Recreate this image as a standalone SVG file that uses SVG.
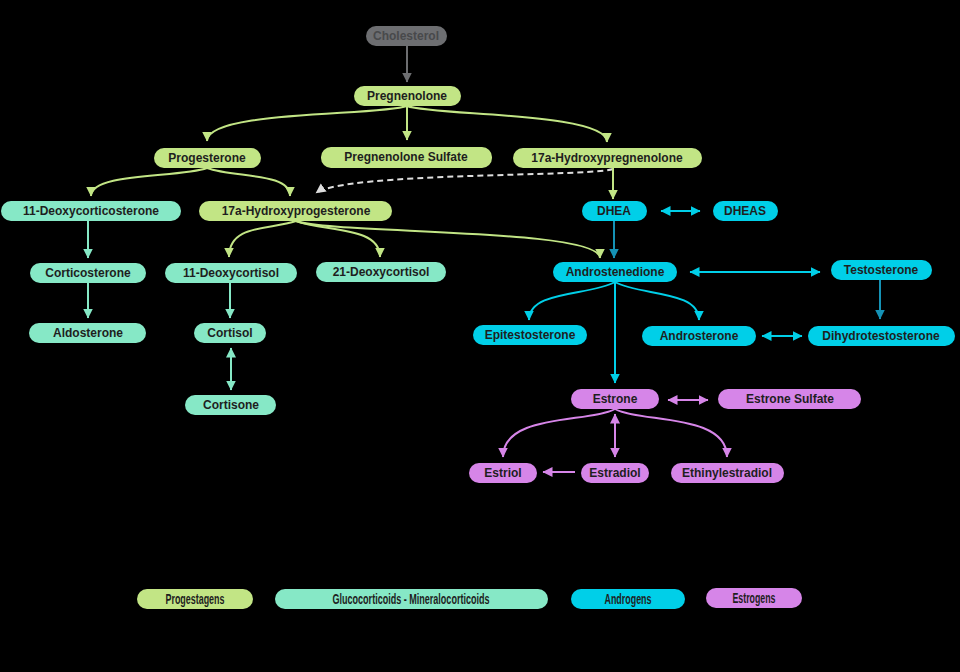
<svg xmlns="http://www.w3.org/2000/svg" width="960" height="672" viewBox="0 0 960 672">
<style>
text{font-family:"Liberation Sans",Arial,sans-serif;font-weight:bold;font-size:12px;fill:#1e1e1e;text-anchor:middle;dominant-baseline:central}
.lg text{font-size:14px}
.pg rect{fill:#c2e585}.gc rect{fill:#86e8c6}.an rect{fill:#00cfe8}.es rect{fill:#d685e8}
.ch rect{fill:#6d6e71}.ch text{fill:#48494b}
.e{fill:none;stroke-width:2}
.eg{stroke:#c2e585;marker-end:url(#mg)}
.em{stroke:#86e8c6;marker-end:url(#mm)}
.ec{stroke:#00cfe8;marker-end:url(#mc)}
.ed{stroke:#1592b5;marker-end:url(#md)}
.ev{stroke:#d685e8;marker-end:url(#mv)}
.b1{marker-start:url(#mm)}.b2{marker-start:url(#mc)}.b3{marker-start:url(#mv)}
</style>
<defs>
<marker id="mg" markerUnits="userSpaceOnUse" markerWidth="11" markerHeight="11" refX="9.5" refY="5" orient="auto-start-reverse"><path d="M0,0L10,5L0,10z" fill="#c2e585"/></marker>
<marker id="mm" markerUnits="userSpaceOnUse" markerWidth="11" markerHeight="11" refX="9.5" refY="5" orient="auto-start-reverse"><path d="M0,0L10,5L0,10z" fill="#86e8c6"/></marker>
<marker id="mc" markerUnits="userSpaceOnUse" markerWidth="11" markerHeight="11" refX="9.5" refY="5" orient="auto-start-reverse"><path d="M0,0L10,5L0,10z" fill="#00cfe8"/></marker>
<marker id="md" markerUnits="userSpaceOnUse" markerWidth="11" markerHeight="11" refX="9.5" refY="5" orient="auto-start-reverse"><path d="M0,0L10,5L0,10z" fill="#1592b5"/></marker>
<marker id="mv" markerUnits="userSpaceOnUse" markerWidth="11" markerHeight="11" refX="9.5" refY="5" orient="auto-start-reverse"><path d="M0,0L10,5L0,10z" fill="#d685e8"/></marker>
<marker id="mgr" markerUnits="userSpaceOnUse" markerWidth="11" markerHeight="11" refX="9.5" refY="5" orient="auto"><path d="M0,0L10,5L0,10z" fill="#6d6e71"/></marker>
<marker id="mw" markerUnits="userSpaceOnUse" markerWidth="11" markerHeight="11" refX="9.5" refY="5" orient="auto"><path d="M0,0L10,5L0,10z" fill="#dddddd"/></marker>
</defs>
<rect width="960" height="672" fill="#000"/>
<g id="connectors">
<path class="e" stroke="#6d6e71" marker-end="url(#mgr)" d="M407,46L407,82"/>
<path class="e eg" d="M407,106C380,116 207,110 207,141"/>
<path class="e eg" d="M407,106L407,140"/>
<path class="e eg" d="M407,106C434,116 607,112 607,142"/>
<path class="e" stroke="#dddddd" stroke-dasharray="6,4" marker-end="url(#mw)" d="M613,169C590,177 345,172 316,193"/>
<path class="e eg" d="M207,168C180,178 91,172 91,196"/>
<path class="e eg" d="M207,168C234,178 290,172 290,196"/>
<path class="e eg" d="M613,168L613,199"/>
<path class="e ec b2" d="M661,211L700,211"/>
<path class="e em" d="M88,221L88,258"/>
<path class="e em" d="M88,283L88,318"/>
<path class="e eg" d="M296,221C270,230 229,224 229,257"/>
<path class="e eg" d="M296,221C325,232 380,226 380,257"/>
<path class="e eg" d="M296,221C330,234 600,228 600,258"/>
<path class="e ed" d="M614,221L614,258"/>
<path class="e ec b2" d="M690,272L820,272"/>
<path class="e ec" d="M615,282C590,296 529,290 529,320"/>
<path class="e ec" d="M615,282C640,296 699,290 699,320"/>
<path class="e ec" d="M615,282L615,383"/>
<path class="e ed" d="M880,280L880,319"/>
<path class="e ec b2" d="M762,336L802,336"/>
<path class="e em" d="M230,283L230,318"/>
<path class="e em b1" d="M231,348L231,390"/>
<path class="e ev b3" d="M668,400L708,400"/>
<path class="e ev" d="M615,409C590,423 503,413 503,457"/>
<path class="e ev b3" d="M615,414L615,457"/>
<path class="e ev" d="M615,409C640,423 727,413 727,457"/>
<path class="e ev" d="M575,472L543,472"/>
</g>
<g id="cholesterol" class="ch"><rect x="366" y="26" width="81" height="20" rx="10"/><text x="406" y="36">Cholesterol</text></g>
<g id="pregnenolone" class="pg"><rect x="354" y="86" width="107" height="20" rx="10"/><text x="407" y="96">Pregnenolone</text></g>
<g id="progesterone" class="pg"><rect x="154" y="148" width="107" height="20" rx="10"/><text x="207" y="158">Progesterone</text></g>
<g id="pregnenolone-sulfate" class="pg"><rect x="321" y="147" width="171" height="21" rx="10"/><text x="406" y="157">Pregnenolone Sulfate</text></g>
<g id="hydroxypregnenolone" class="pg"><rect x="513" y="148" width="189" height="20" rx="10"/><text x="607" y="158">17a-Hydroxypregnenolone</text></g>
<g id="deoxycorticosterone" class="gc"><rect x="1" y="201" width="180" height="20" rx="10"/><text x="91" y="211">11-Deoxycorticosterone</text></g>
<g id="hydroxyprogesterone" class="pg"><rect x="199" y="201" width="193" height="20" rx="10"/><text x="296" y="211">17a-Hydroxyprogesterone</text></g>
<g id="dhea" class="an"><rect x="582" y="201" width="65" height="20" rx="10"/><text x="614" y="211">DHEA</text></g>
<g id="dheas" class="an"><rect x="713" y="201" width="65" height="20" rx="10"/><text x="745" y="211">DHEAS</text></g>
<g id="corticosterone" class="gc"><rect x="30" y="263" width="116" height="20" rx="10"/><text x="88" y="273">Corticosterone</text></g>
<g id="deoxycortisol11" class="gc"><rect x="165" y="263" width="132" height="20" rx="10"/><text x="231" y="273">11-Deoxycortisol</text></g>
<g id="deoxycortisol21" class="gc"><rect x="316" y="262" width="130" height="20" rx="10"/><text x="381" y="272">21-Deoxycortisol</text></g>
<g id="androstenedione" class="an"><rect x="553" y="262" width="124" height="20" rx="10"/><text x="615" y="272">Androstenedione</text></g>
<g id="testosterone" class="an"><rect x="831" y="260" width="101" height="20" rx="10"/><text x="881" y="270">Testosterone</text></g>
<g id="aldosterone" class="gc"><rect x="29" y="323" width="117" height="20" rx="10"/><text x="88" y="333">Aldosterone</text></g>
<g id="cortisol" class="gc"><rect x="194" y="323" width="72" height="20" rx="10"/><text x="230" y="333">Cortisol</text></g>
<g id="epitestosterone" class="an"><rect x="473" y="325" width="114" height="20" rx="10"/><text x="530" y="335">Epitestosterone</text></g>
<g id="androsterone" class="an"><rect x="642" y="326" width="114" height="20" rx="10"/><text x="699" y="336">Androsterone</text></g>
<g id="dihydrotestosterone" class="an"><rect x="808" y="326" width="147" height="20" rx="10"/><text x="881" y="336">Dihydrotestosterone</text></g>
<g id="cortisone" class="gc"><rect x="185" y="395" width="91" height="20" rx="10"/><text x="231" y="405">Cortisone</text></g>
<g id="estrone" class="es"><rect x="571" y="389" width="88" height="20" rx="10"/><text x="615" y="399">Estrone</text></g>
<g id="estrone-sulfate" class="es"><rect x="718" y="389" width="143" height="20" rx="10"/><text x="790" y="399">Estrone Sulfate</text></g>
<g id="estriol" class="es"><rect x="469" y="463" width="68" height="20" rx="10"/><text x="503" y="473">Estriol</text></g>
<g id="estradiol" class="es"><rect x="581" y="463" width="68" height="20" rx="10"/><text x="615" y="473">Estradiol</text></g>
<g id="ethinylestradiol" class="es"><rect x="671" y="463" width="113" height="20" rx="10"/><text x="727" y="473">Ethinylestradiol</text></g>
<g id="legend" class="lg">
<g id="legend-progestagens" class="pg"><rect x="137" y="589" width="116" height="20" rx="10"/><text x="195" y="599" textLength="59" lengthAdjust="spacingAndGlyphs">Progestagens</text></g>
<g id="legend-gluco" class="gc"><rect x="275" y="589" width="273" height="20" rx="10"/><text x="411" y="599" textLength="157" lengthAdjust="spacingAndGlyphs">Glucocorticoids - Mineralocorticoids</text></g>
<g id="legend-androgens" class="an"><rect x="571" y="589" width="114" height="20" rx="10"/><text x="628" y="599" textLength="47" lengthAdjust="spacingAndGlyphs">Androgens</text></g>
<g id="legend-estrogens" class="es"><rect x="706" y="588" width="96" height="20" rx="10"/><text x="754" y="598" textLength="43" lengthAdjust="spacingAndGlyphs">Estrogens</text></g>
</g>
</svg>
